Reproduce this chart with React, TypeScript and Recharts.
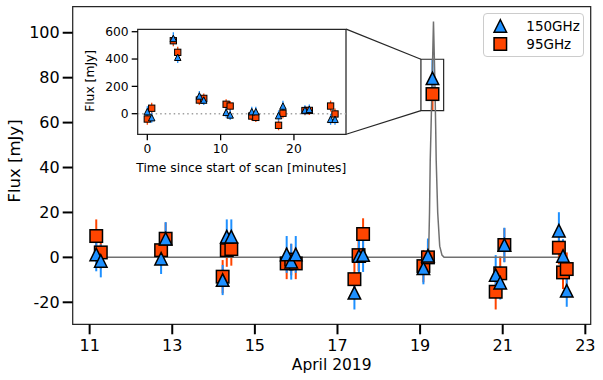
import React from 'react';
import {
  CartesianGrid,
  ErrorBar,
  Label,
  Legend,
  ReferenceArea,
  ReferenceLine,
  Scatter,
  ScatterChart,
  XAxis,
  YAxis,
} from 'recharts';

const FONT = '"DejaVu Sans", sans-serif';
const BLUE = '#1E90FF';
const ORANGE = '#FF4500';
const FRAME = '#262626';

// main light curve (days in April 2019, flux in mJy)
const days150 = [11.16, 11.27, 12.73, 12.84, 14.22, 14.32, 14.43, 15.77, 15.88, 15.99, 17.41, 17.52, 17.62, 19.08, 19.19, 19.3, 20.83, 20.94, 21.04, 22.36, 22.46, 22.55];
const flux150 = [1.3, -1.6, -0.6, 8.3, -10.1, 9.2, 9.2, 1.3, -1.9, 1.3, -15.8, 0.6, 1.0, -4.9, 0.7, 79.7, -7.9, -11.3, 5.5, 11.9, 0.6, -14.9];
const err150 = [7.5, 7.3, 6.8, 7.4, 6.7, 7.7, 7.7, 8.2, 8.0, 8.2, 7.4, 7.5, 7.5, 7.1, 7.7, 8.2, 8.9, 7.5, 7.7, 8.2, 7.5, 7.1];

const days95 = [11.16, 11.27, 12.73, 12.84, 14.22, 14.32, 14.43, 15.77, 15.88, 15.99, 17.41, 17.51, 17.62, 19.08, 19.19, 19.3, 20.83, 20.94, 21.04, 22.36, 22.46, 22.55];
const flux95 = [9.5, 2.2, 3.2, 8.3, -8.6, 3.2, 3.7, -2.7, -1.0, -2.7, -9.7, 1.0, 10.4, -3.9, 0.0, 72.7, -15.3, -7.1, 5.5, 4.3, -6.7, -5.2];
const err95 = [7.4, 7.4, 7.2, 7.2, 7.4, 7.4, 7.4, 7.0, 7.0, 7.0, 7.2, 7.2, 7.0, 7.2, 7.2, 7.1, 7.9, 7.5, 7.5, 7.4, 7.4, 7.4];

// flare model curve
const curveDays = [11.16, 19.17, 19.208, 19.228, 19.245, 19.264, 19.293, 19.324, 19.356, 19.378, 19.39, 19.426, 19.475, 19.53, 19.58, 22.55];
const curveFlux = [0, 0, 3, 20, 43, 57, 80, 105, 80, 57, 43, 20, 5, 1, 0, 0];

// inset: minutes since start of scan
const insetMin = [0, 0.6, 3.55, 4.15, 7.1, 7.7, 10.75, 11.3, 14.25, 14.8, 17.9, 18.5, 21.5, 22.1, 25.0, 25.6];
const insetFlux150 = [15, -29, 551, 413, 130, 100, 10, -9, 15, 15, -14, 56, 27, 32, -41, -41];
const insetErr150 = [40, 38, 45, 42, 36, 36, 38, 38, 35, 35, 38, 38, 35, 35, 40, 40];
const insetFlux95 = [-39, 40, 534, 449, 100, 112, 69, 56, -17, -27, -85, 3, 23, 24, 56, -2];
const insetErr95 = [42, 40, 40, 40, 35, 35, 36, 36, 34, 34, 36, 36, 34, 34, 40, 40];

const xTicks = [11, 13, 15, 17, 19, 21, 23];
const yTicks = [-20, 0, 20, 40, 60, 80, 100];
const insetXTicks = [0, 10, 20];
const insetYTicks = [0, 200, 400, 600];

const X_DOMAIN: [number, number] = [10.59, 23.13];
const Y_DOMAIN: [number, number] = [-29.8, 111.6];
const INSET_X: [number, number] = [-1.31, 27.1];
const INSET_Y: [number, number] = [-150.8, 617.6];

// zoom box around the flare and where the inset's right corners fall in main-axis units
const zoomBox = { x1: 19.02, x2: 19.57, y1: 65.3, y2: 88.2 };
const insetCorner = { x: 17.21, top: 101.6, bottom: 54.8 };

const toPoints = (xs: number[], ys: number[], es?: number[]) =>
  xs.map((x, i) => ({ x, y: ys[i], err: es ? es[i] : 0 }));

const data150 = toPoints(days150, flux150, err150);
const data95 = toPoints(days95, flux95, err95);
const curveData = toPoints(curveDays, curveFlux);
const inset150 = toPoints(insetMin, insetFlux150, insetErr150);
const inset95 = toPoints(insetMin, insetFlux95, insetErr95);

function triangle(cx: number, cy: number, size: number, fill: string, sw: number) {
  const h = size / 2;
  return (
    <polygon
      points={`${cx},${cy - h} ${cx - h},${cy + h} ${cx + h},${cy + h}`}
      fill={fill}
      stroke="#000"
      strokeWidth={sw}
    />
  );
}

function square(cx: number, cy: number, size: number, fill: string, sw: number) {
  const h = size / 2;
  return <rect x={cx - h} y={cy - h} width={size} height={size} fill={fill} stroke="#000" strokeWidth={sw} />;
}

const triangleShape = (size: number, sw: number) => (props: any) =>
  props.cx == null ? <g /> : triangle(props.cx, props.cy, size, BLUE, sw);
const squareShape = (size: number, sw: number) => (props: any) =>
  props.cx == null ? <g /> : square(props.cx, props.cy, size, ORANGE, sw);
const noMarker = () => <g />;

const legendItems = [
  { name: '150GHz', kind: 'triangle', color: BLUE },
  { name: '95GHz', kind: 'square', color: ORANGE },
];

function LegendBox() {
  return (
    <div
      style={{
        width: 101,
        height: 44,
        boxSizing: 'border-box',
        border: '1px solid #cccccc',
        borderRadius: 4,
        background: 'rgba(255,255,255,0.8)',
      }}
    >
      <svg width={99} height={42} style={{ display: 'block' }}>
        {legendItems.map((item, i) => {
          const cy = 12 + i * 18;
          return (
            <g key={item.name}>
              {item.kind === 'triangle'
                ? triangle(16.3, cy, 12.5, item.color, 1.5)
                : square(16.3, cy, 12.5, item.color, 1.5)}
              <text x={42.3} y={cy + 5} fontSize={13.5} fontFamily={FONT} fill="#000">
                {item.name}
              </text>
            </g>
          );
        })}
      </svg>
    </div>
  );
}

const tickStyle = { fill: '#000', fontSize: 16, fontFamily: FONT };
const insetTickStyle = { fill: '#000', fontSize: 12.3, fontFamily: FONT };

export default function App() {
  return (
    <div style={{ position: 'absolute', left: 0, top: 0, width: 603, height: 380, background: '#fff' }}>
      <ScatterChart width={603} height={380} margin={{ top: 6.7, right: 12.3, bottom: 0, left: 12.7 }}>
        <XAxis
          type="number"
          dataKey="x"
          domain={X_DOMAIN}
          ticks={xTicks}
          allowDataOverflow
          height={55.7}
          axisLine={false}
          tickSize={10}
          tickMargin={5}
          tickLine={{ stroke: '#000', strokeWidth: 2 }}
          tick={tickStyle}
          label={
            <Label
              content={() => (
                <text x={331.7} y={369.6} textAnchor="middle" fontSize={15.5} fontFamily={FONT} fill="#000">
                  April 2019
                </text>
              )}
            />
          }
        />
        <YAxis
          type="number"
          dataKey="y"
          domain={Y_DOMAIN}
          ticks={yTicks}
          allowDataOverflow
          width={60}
          axisLine={false}
          tickSize={10}
          tickMargin={3}
          tickLine={{ stroke: '#000', strokeWidth: 2 }}
          tick={tickStyle}
          label={
            <Label
              content={() => (
                <text
                  x={20.3}
                  y={161}
                  transform="rotate(-90 20.3 161)"
                  textAnchor="middle"
                  fontSize={16.5}
                  fontFamily={FONT}
                  fill="#000"
                >
                  Flux [mJy]
                </text>
              )}
            />
          }
        />
        <ReferenceArea
          x1={X_DOMAIN[0]}
          x2={X_DOMAIN[1]}
          y1={Y_DOMAIN[0]}
          y2={Y_DOMAIN[1]}
          fill="none"
          stroke={FRAME}
          strokeWidth={1.25}
        />
        <ReferenceArea {...zoomBox} fill="none" fillOpacity={0} stroke={FRAME} strokeWidth={1.2} />
        <ReferenceLine
          segment={[{ x: insetCorner.x, y: insetCorner.top }, { x: zoomBox.x1, y: zoomBox.y2 }]}
          stroke={FRAME}
          strokeWidth={1.2}
        />
        <ReferenceLine
          segment={[{ x: insetCorner.x, y: insetCorner.bottom }, { x: zoomBox.x1, y: zoomBox.y1 }]}
          stroke={FRAME}
          strokeWidth={1.2}
        />
        <Scatter
          data={curveData}
          shape={noMarker}
          line={{ stroke: '#707070', strokeWidth: 1.5 }}
          legendType="none"
          isAnimationActive={false}
        />
        <Scatter name="95GHz" data={data95} shape={squareShape(12.5, 1.5)} isAnimationActive={false}>
          <ErrorBar dataKey="err" direction="y" width={0} stroke={ORANGE} strokeWidth={2} isAnimationActive={false} />
        </Scatter>
        <Scatter name="150GHz" data={data150} shape={triangleShape(12.5, 1.5)} isAnimationActive={false}>
          <ErrorBar dataKey="err" direction="y" width={0} stroke={BLUE} strokeWidth={2} isAnimationActive={false} />
        </Scatter>
        <Legend
          layout="horizontal"
          verticalAlign="middle"
          align="center"
          content={() => <LegendBox />}
          wrapperStyle={{ left: 482.7, top: 13.3, width: 101, height: 44 }}
        />
      </ScatterChart>

      <div style={{ position: 'absolute', left: 80, top: 20 }}>
        <ScatterChart width={276} height={165} margin={{ top: 9.3, right: 10, bottom: 10.7, left: 7.7 }}>
          <CartesianGrid horizontal={false} vertical={false} fill="#fff" fillOpacity={1} />
          <XAxis
            type="number"
            dataKey="x"
            domain={INSET_X}
            ticks={insetXTicks}
            allowDataOverflow
            height={40}
            axisLine={false}
            tickSize={6}
            tickMargin={4}
            tickLine={{ stroke: '#000', strokeWidth: 1.3 }}
            tick={insetTickStyle}
            label={
              <Label
                content={() => (
                  <text x={161.3} y={152.3} textAnchor="middle" fontSize={12.3} fontFamily={FONT} fill="#000">
                    Time since start of scan [minutes]
                  </text>
                )}
              />
            }
          />
          <YAxis
            type="number"
            dataKey="y"
            domain={INSET_Y}
            ticks={insetYTicks}
            allowDataOverflow
            width={50}
            axisLine={false}
            tickSize={6}
            tickMargin={3}
            tickLine={{ stroke: '#000', strokeWidth: 1.3 }}
            tick={insetTickStyle}
            label={
              <Label
                content={() => (
                  <text
                    x={14}
                    y={60.9}
                    transform="rotate(-90 14 60.9)"
                    textAnchor="middle"
                    fontSize={12.3}
                    fontFamily={FONT}
                    fill="#000"
                  >
                    Flux [mJy]
                  </text>
                )}
              />
            }
          />
          <ReferenceLine y={0} stroke="#a0a0a0" strokeWidth={1.5} strokeDasharray="1.5 3" />
          <ReferenceArea
            x1={INSET_X[0]}
            x2={INSET_X[1]}
            y1={INSET_Y[0]}
            y2={INSET_Y[1]}
            fill="none"
            stroke={FRAME}
            strokeWidth={1.25}
          />
          <Scatter data={inset95} shape={squareShape(6.3, 1)} isAnimationActive={false}>
            <ErrorBar dataKey="err" direction="y" width={0} stroke={ORANGE} strokeWidth={1.3} isAnimationActive={false} />
          </Scatter>
          <Scatter data={inset150} shape={triangleShape(6.5, 1)} isAnimationActive={false}>
            <ErrorBar dataKey="err" direction="y" width={0} stroke={BLUE} strokeWidth={1.3} isAnimationActive={false} />
          </Scatter>
        </ScatterChart>
      </div>
    </div>
  );
}
